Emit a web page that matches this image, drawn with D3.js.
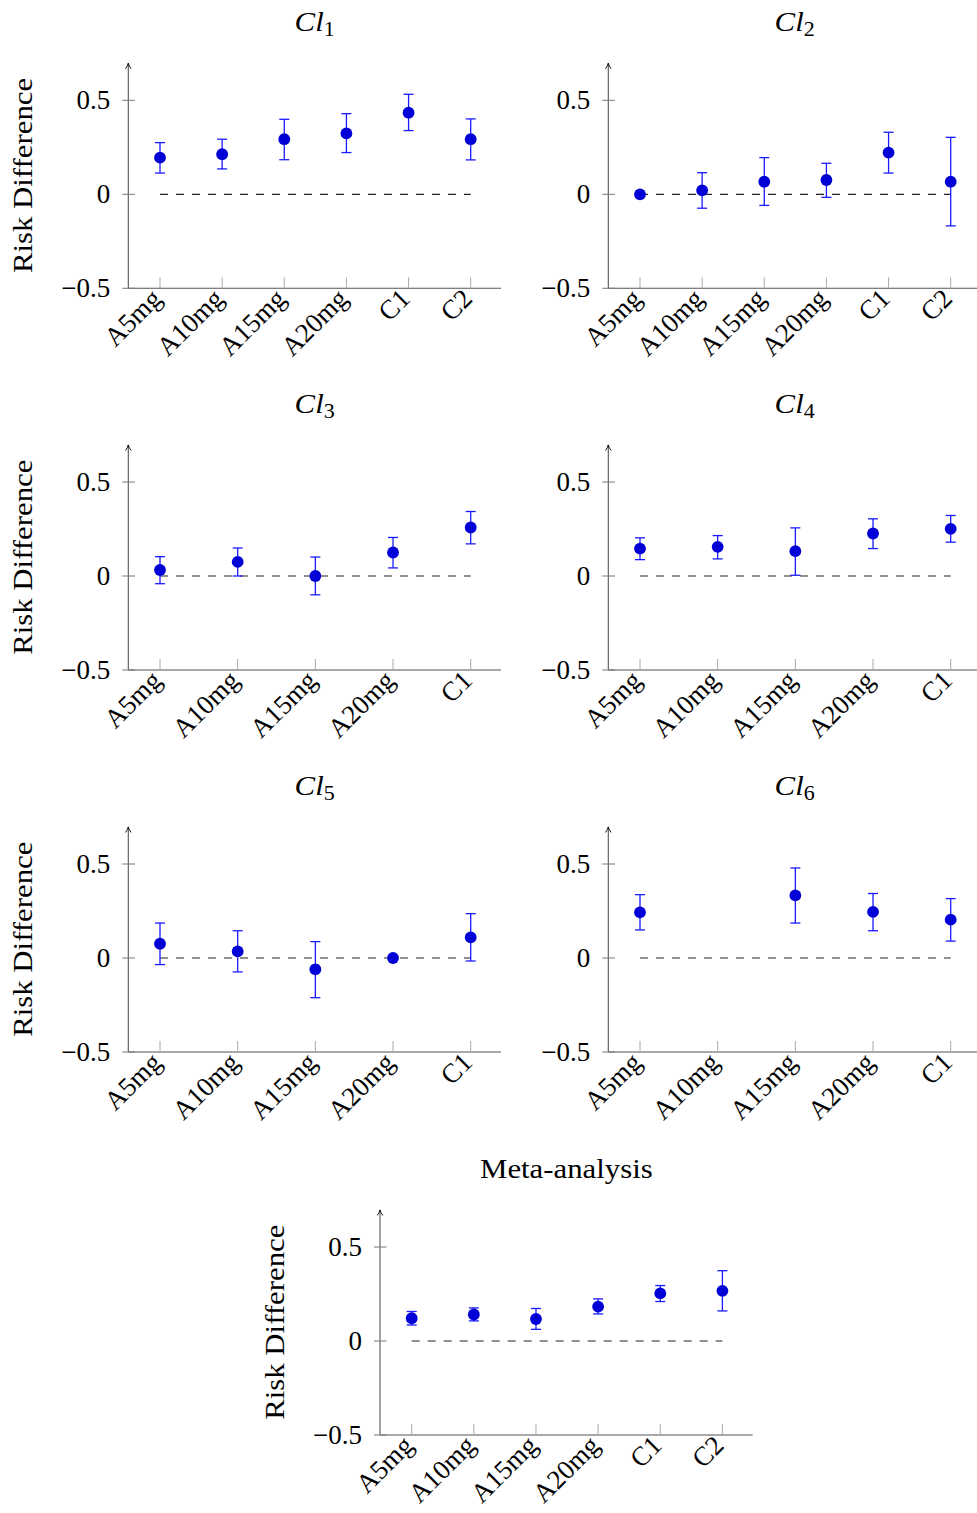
<!DOCTYPE html>
<html>
<head>
<meta charset="utf-8">
<script src="https://cdn.jsdelivr.net/npm/d3@7"></script>
<style>
  html, body { margin: 0; padding: 0; background: #fff; }
  svg { display: block; }
  text { font-family: "Liberation Serif", "DejaVu Serif", serif; fill: #000; }
</style>
</head>
<body>
<svg id="chart" width="977" height="1513"></svg>
<script>
// Treatment groups on the x axis
const categories6 = ["A5mg", "A10mg", "A15mg", "A20mg", "C1", "C2"];
const categories5 = ["A5mg", "A10mg", "A15mg", "A20mg", "C1"];
const yTicks = [-0.5, 0, 0.5];

// Risk differences with confidence limits, one set per cluster
const cl1Mean  = [0.195, 0.213, 0.293, 0.324, 0.434, 0.293];
const cl1Lower = [0.113, 0.135, 0.184, 0.222, 0.339, 0.183];
const cl1Upper = [0.275, 0.293, 0.399, 0.429, 0.532, 0.401];

const cl2Mean  = [0.000, 0.021, 0.067, 0.076, 0.222, 0.067];
const cl2Lower = [0.000, -0.074, -0.059, -0.016, 0.113, -0.168];
const cl2Upper = [0.000, 0.115, 0.195, 0.165, 0.330, 0.303];

const cl3Mean  = [0.032, 0.075, 0.000, 0.125, 0.258];
const cl3Lower = [-0.041, 0.000, -0.100, 0.043, 0.171];
const cl3Upper = [0.103, 0.149, 0.101, 0.205, 0.343];

const cl4Mean  = [0.146, 0.155, 0.132, 0.226, 0.251];
const cl4Lower = [0.087, 0.091, 0.004, 0.146, 0.180];
const cl4Upper = [0.203, 0.215, 0.256, 0.304, 0.322];

const cl5Mean  = [0.076, 0.035, -0.060, 0.000, 0.110];
const cl5Lower = [-0.035, -0.074, -0.211, 0.000, -0.016];
const cl5Upper = [0.186, 0.145, 0.087, 0.000, 0.236];

const cl6Mean  = [0.243, null, 0.333, 0.245, 0.204];
const cl6Lower = [0.149, null, 0.186, 0.145, 0.090];
const cl6Upper = [0.337, null, 0.479, 0.343, 0.316];

const metaMean  = [0.121, 0.141, 0.117, 0.183, 0.253, 0.267];
const metaLower = [0.085, 0.107, 0.062, 0.144, 0.210, 0.160];
const metaUpper = [0.157, 0.176, 0.173, 0.224, 0.295, 0.374];

// Panel placement: axis origin x, bottom y, whether to show the y label
const panels = [
  { title: ["Cl", "1"], cats: categories6, mean: cl1Mean, lo: cl1Lower, hi: cl1Upper, x0: 128.3, y0: 288.3, ylabel: true },
  { title: ["Cl", "2"], cats: categories6, mean: cl2Mean, lo: cl2Lower, hi: cl2Upper, x0: 608.3, y0: 288.3, ylabel: false },
  { title: ["Cl", "3"], cats: categories5, mean: cl3Mean, lo: cl3Lower, hi: cl3Upper, x0: 128.3, y0: 670.0, ylabel: true },
  { title: ["Cl", "4"], cats: categories5, mean: cl4Mean, lo: cl4Lower, hi: cl4Upper, x0: 608.3, y0: 670.0, ylabel: false },
  { title: ["Cl", "5"], cats: categories5, mean: cl5Mean, lo: cl5Lower, hi: cl5Upper, x0: 128.3, y0: 1052.0, ylabel: true },
  { title: ["Cl", "6"], cats: categories5, mean: cl6Mean, lo: cl6Lower, hi: cl6Upper, x0: 608.3, y0: 1052.0, ylabel: false },
  { title: "Meta-analysis", cats: categories6, mean: metaMean, lo: metaLower, hi: metaUpper, x0: 380.0, y0: 1435.0, ylabel: true }
];

const svg = d3.select("#chart");
const defs = svg.append("defs");
defs.append("marker")
  .attr("id", "arrow")
  .attr("viewBox", "0 0 10 10")
  .attr("refX", 9).attr("refY", 5)
  .attr("markerWidth", 7).attr("markerHeight", 7)
  .attr("markerUnits", "userSpaceOnUse")
  .attr("orient", "auto")
  .append("path")
  .attr("d", "M1,1 Q5,4 9,5 Q5,6 1,9")
  .attr("fill", "none").attr("stroke", "#000").attr("stroke-width", 1.3);

const FONT = 27;          // numbers and category labels
const WFONT = 28;         // titles
const WIDEN = 1.1;        // horizontal stretch for titles
const axisColor = "#555";
const plotW = 372.7;     // axis length in x
const padL = 31.7;       // gap between y axis and first category
const padR = 30.3;       // gap between last category and axis end
const plotH = 225.6;     // -0.5 .. 0.7

panels.forEach(p => {
  const g = svg.append("g");
  const x = d3.scalePoint()
    .domain(p.cats)
    .range([p.x0 + padL, p.x0 + plotW - padR]);
  const y = d3.scaleLinear()
    .domain([-0.5, 0.7])
    .range([p.y0, p.y0 - plotH]);

  // x axis line
  g.append("line")
    .attr("x1", p.x0).attr("x2", Math.min(p.x0 + plotW, 977))
    .attr("y1", p.y0).attr("y2", p.y0)
    .attr("stroke", axisColor).attr("stroke-width", 1.1);

  // y axis with arrow tip
  g.append("line")
    .attr("x1", p.x0).attr("x2", p.x0)
    .attr("y1", p.y0).attr("y2", y(0.7) + 0.5)
    .attr("stroke", axisColor).attr("stroke-width", 1.1)
    .attr("marker-end", "url(#arrow)");

  // x ticks and rotated labels
  p.cats.forEach(c => {
    const cx = x(c);
    g.append("line")
      .attr("x1", cx).attr("x2", cx)
      .attr("y1", p.y0 - 11).attr("y2", p.y0)
      .attr("stroke", "#aaa").attr("stroke-width", 1);
    g.append("text")
      .attr("transform", `translate(${cx + 3},${p.y0 + 12}) rotate(-45)`)
      .attr("text-anchor", "end")
      .attr("font-size", FONT)
      .text(c);
  });

  // y ticks and labels
  yTicks.forEach(t => {
    const ty = y(t);
    g.append("line")
      .attr("x1", p.x0 - 6).attr("x2", p.x0 + 6.5)
      .attr("y1", ty).attr("y2", ty)
      .attr("stroke", "#777").attr("stroke-width", 1);
    g.append("text")
      .attr("x", p.x0 - 18)
      .attr("y", ty + 9)
      .attr("text-anchor", "end")
      .attr("font-size", FONT)
      .text(d3.format(".1~f")(t).replace("-", "\u2212"));
  });

  // y axis title
  if (p.ylabel) {
    g.append("text")
      .attr("transform", `translate(${p.x0 - 96},${(y(-0.5) + y(0.7)) / 2}) rotate(-90) scale(${WIDEN},1)`)
      .attr("text-anchor", "middle")
      .attr("font-size", WFONT)
      .text("Risk Difference");
  }

  // panel title
  const titleX = p.x0 + plotW / 2;
  const titleY = y(0) - 163;
  const tt = g.append("text")
    .attr("transform", `translate(${titleX},${titleY}) scale(${WIDEN},1)`)
    .attr("text-anchor", "middle")
    .attr("font-size", WFONT);
  if (Array.isArray(p.title)) {
    tt.append("tspan").attr("font-style", "italic").text(p.title[0]);
    tt.append("tspan").attr("font-size", 20).attr("dy", 5).text(p.title[1]);
  } else {
    tt.text(p.title);
  }

  // reference line at zero
  g.append("line")
    .attr("x1", x(p.cats[0])).attr("x2", x(p.cats[p.cats.length - 1]))
    .attr("y1", y(0)).attr("y2", y(0))
    .attr("stroke", "#222").attr("stroke-width", 1.2)
    .attr("stroke-dasharray", "8,8");

  // error bars and point estimates
  const rows = p.cats.map((c, i) => ({ c, m: p.mean[i], lo: p.lo[i], hi: p.hi[i] }))
    .filter(d => d.m !== null);

  const eb = g.selectAll(".eb").data(rows).enter().append("g");
  eb.append("line")
    .attr("x1", d => x(d.c)).attr("x2", d => x(d.c))
    .attr("y1", d => y(d.lo)).attr("y2", d => y(d.hi))
    .attr("stroke", "#1a1aff").attr("stroke-width", 1.3);
  ["lo", "hi"].forEach(k => {
    eb.append("line")
      .attr("x1", d => x(d.c) - 5).attr("x2", d => x(d.c) + 5)
      .attr("y1", d => y(d[k])).attr("y2", d => y(d[k]))
      .attr("stroke", "#1a1aff").attr("stroke-width", 1.3);
  });
  eb.append("circle")
    .attr("cx", d => x(d.c)).attr("cy", d => y(d.m))
    .attr("r", 5.9)
    .attr("fill", "#0000d6");
});
</script>
</body>
</html>
